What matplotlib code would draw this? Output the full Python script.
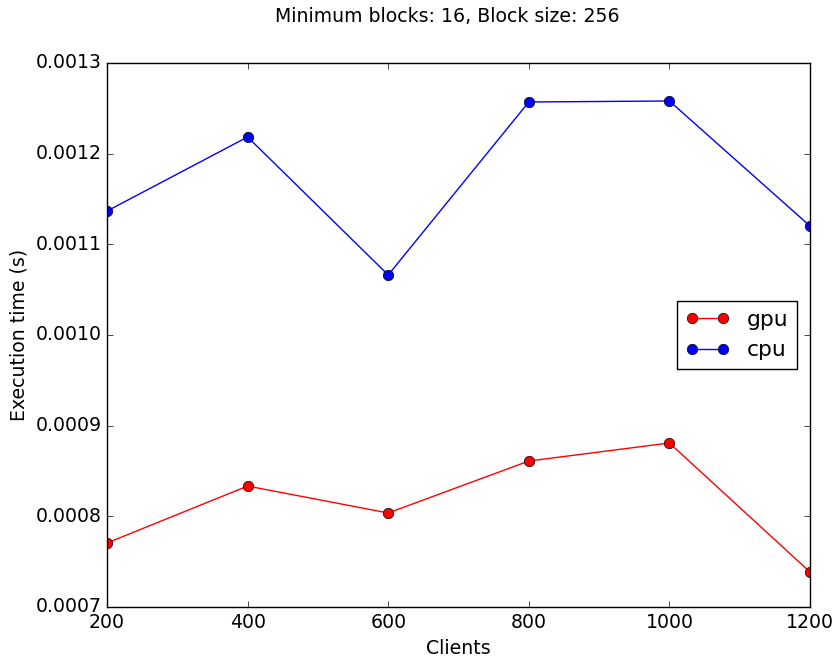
import numpy as np
import matplotlib
matplotlib.use('Agg')
import matplotlib.pyplot as plt
plt.style.use('classic')

clients = [200, 400, 600, 800, 1000, 1200]
gpu_times = [0.0007706, 0.0008334, 0.0008037, 0.000861, 0.0008809, 0.0007386]
cpu_times = [0.0011367, 0.0012184, 0.0010662, 0.001257, 0.0012581, 0.0011202]

fig = plt.figure(figsize=(8.37, 6.57), dpi=100, facecolor='white')
ax = fig.add_axes([107/837, 1 - 607/657, (810-107)/837, (607-63)/657])

ax.plot(clients, gpu_times, 'o-', color='r', markersize=7.5, label='gpu')
ax.plot(clients, cpu_times, 'o-', color='b', markersize=7.5, label='cpu')

ax.set_xlim(200, 1200)
ax.set_ylim(0.0007, 0.0013)
ax.set_xlabel('Clients', fontsize=13.6)
ax.set_ylabel('Execution time (s)', fontsize=13.6)
ax.tick_params(labelsize=13.6)
ax.legend(loc='center right', fontsize=15.7, borderaxespad=0.6)

fig.text(447/837, 1 - 17/657, 'Minimum blocks: 16, Block size: 256',
         ha='center', va='center', fontsize=13.6)

fig.savefig('out.png', dpi=100, facecolor='white')
